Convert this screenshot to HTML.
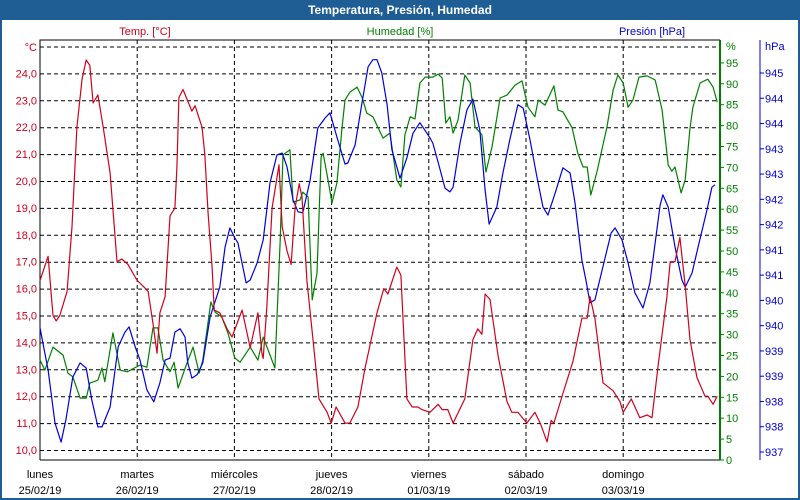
<!DOCTYPE html>
<html><head><meta charset="utf-8"><style>
body{margin:0;background:#fff;}
svg{display:block;font-family:"Liberation Sans",sans-serif;}
</style></head><body>
<svg id="chart" width="800" height="500" viewBox="0 0 800 500">
<rect x="0" y="0" width="800" height="500" fill="#1f5d95"/>
<rect x="2" y="20" width="796" height="478" fill="#ffffff"/>
<text x="400" y="14" text-anchor="middle" fill="#fff" font-weight="bold" font-size="12">Temperatura, Presión, Humedad</text>
<text x="145" y="35" text-anchor="middle" fill="#d0001c" font-size="11">Temp. [°C]</text>
<text x="400" y="35" text-anchor="middle" fill="#008000" font-size="11">Humedad [%]</text>
<text x="652" y="35" text-anchor="middle" fill="#0000cc" font-size="11">Presión [hPa]</text>
<g id="grid"></g><g id="axes"></g><g id="series"></g>
</svg>
<script>
const days=["lunes","martes","miércoles","jueves","viernes","sábado","domingo"];
const dates=["25/02/19","26/02/19","27/02/19","28/02/19","01/03/19","02/03/19","03/03/19"];
const tempTicks=["24,0","23,0","22,0","21,0","20,0","19,0","18,0","17,0","16,0","15,0","14,0","13,0","12,0","11,0","10,0"];
const humTicks=[95,90,85,80,75,70,65,60,55,50,45,40,35,30,25,20,15,10,5,0];
const presTicks=["945","944","944","943","943","942","942","941","941","940","940","939","939","938","938","937"];
const tempHours=[0,2,3.2,4,4.9,6.7,7.9,9.1,10.4,11.4,12.3,13.1,14.3,15.6,17.3,19,20.2,21.7,24,25.4,26.7,27.9,28.9,29.6,30.9,32.1,33.3,33.8,34.3,35.3,37.5,38.3,40,40.7,41.5,42.5,43,44.4,46.2,47.4,49.9,51.9,53.8,54.8,55.1,56,57.3,59,59.8,61,62,63,64,64.7,65.9,67.4,68.9,70.9,71.9,73.1,75.3,76.5,78.5,80.2,83.2,84.9,85.9,88.1,89.1,90.6,91.9,93.3,94.3,96.3,98.3,99.3,100.7,102,104.9,106.9,108.1,109.1,109.9,111.1,113.1,115.3,116.5,118,120.2,122.2,123.5,125.2,126.2,126.9,129.1,131.6,133.8,135.1,135.8,137,139,141.5,143.2,144,146,148.1,149.9,151.1,152.6,154.8,155.6,156.8,158,159.3,160.5,162.2,164.2,164.9,166.2,167.2];
const tempValues=[16.3,17.2,15.0,14.8,15.0,15.9,18.3,22.0,23.8,24.5,24.3,22.9,23.2,22.0,20.3,17.0,17.1,16.9,16.3,16.1,15.9,14.7,13.6,15.1,15.7,18.7,19.0,20.5,23.1,23.4,22.6,22.8,22.0,21.0,18.8,16.8,15.2,15.1,14.5,14.2,15.2,13.8,15.1,13.6,13.4,15.3,19.0,20.6,18.3,17.4,16.9,19.0,19.9,19.4,16.3,14.1,11.9,11.4,11.0,11.6,11.0,11.0,11.6,13.0,15.1,16.0,15.8,16.8,16.5,11.9,11.6,11.6,11.5,11.4,11.7,11.5,11.5,11.0,11.9,14.1,14.5,14.3,15.8,15.6,13.5,11.8,11.4,11.4,11.0,11.4,11.0,10.3,11.1,11.0,12.1,13.3,14.9,14.9,15.7,14.9,12.5,12.2,11.8,11.4,11.9,11.2,11.3,11.2,13.1,15.7,17.0,17.0,17.9,16.1,14.1,12.7,12.0,12.0,11.7,12.0];
const humHours=[0,1.2,3.2,5.7,6.9,8.1,9.9,11.4,12.3,14.3,15.3,16,18,19.8,21.5,24.7,26.4,27.9,29.1,30.4,32.1,33.1,34.1,36.3,37.8,39.3,40.2,42.2,43.2,44.9,46.4,48.1,49.4,51.9,53.8,55.1,58,59.3,60,61.7,62.5,64.2,64.9,66.2,67.2,68.4,69.4,69.9,71.1,72.1,73.3,74.6,75.3,76.5,78.3,79.5,80.7,82.2,84.7,86.4,88.1,89.1,90.1,91.4,92.6,93.8,95.1,97,98.3,99.3,100.2,101.2,102,103.2,104.9,106.2,107.4,109.1,110.1,111.6,113.6,115.3,117.3,119,120.5,122.2,123,124.7,126.9,127.9,129.1,131.4,132.8,134.1,135.1,136,137.5,140,141.5,142.7,144,145.2,146.4,147.9,149.9,151.9,153.6,155.1,156,156.8,158.3,159.3,160.5,161.2,163,164.9,166.2,167.2];
const humValues=[23.9,21.5,27.0,25.1,20.8,19.9,14.8,14.8,18.4,19.1,22.0,18.7,30.4,21.5,21.1,22.7,22.2,31.6,31.6,23.9,21.1,23.4,17.2,23.2,27.0,20.8,23.9,37.8,35.4,34.2,30.4,24.4,23.4,27.0,23.9,29.4,22.0,52.6,73.0,74.2,61.7,62.2,64.1,62.9,38.3,44.7,72.5,73.4,67.0,61.5,66.3,79.7,86.1,88.0,89.2,86.8,83.0,82.1,77.0,78.2,67.0,65.3,77.8,82.1,81.6,90.2,91.6,91.6,92.3,91.4,80.6,82.1,78.2,81.3,92.1,90.2,79.7,77.8,68.9,74.9,86.6,87.3,89.7,90.7,84.4,82.1,86.1,84.9,89.5,83.7,83.3,79.4,73.4,70.1,70.1,63.4,68.9,79.7,88.5,92.1,90.2,84.4,86.1,91.6,91.9,90.9,83.7,70.6,69.1,70.1,63.9,67.0,79.4,84.4,90.2,91.1,89.2,85.6];
const presHours=[0,2,3.7,5.2,6.4,8.1,9.9,11.4,12.8,14.3,15.3,17.3,19.3,21,22,23.5,24.7,26.4,28.1,29.6,30.9,32.1,33.3,34.6,35.8,36.5,37.5,38.8,40.2,42,44.4,45.7,46.9,48.1,48.9,50.9,51.9,53.6,55.1,56.8,58.5,59.8,61,62.5,63.7,64.9,66.7,68.6,70.4,71.6,73.3,75.3,76,77.8,79.5,81,82.2,83.2,84.4,85.7,86.9,88.9,90.6,92.1,93.8,96.3,97,98.3,100,101.2,102,103.7,105.4,106.9,108.6,109.9,110.9,112.8,114.3,116,118,119.3,121,122.7,124.2,125.4,127.2,129.1,130.9,132.1,133.8,134.8,135.8,137,138.8,141,142,143.7,145.2,146.9,148.9,150.6,153.1,153.8,155.1,156.8,158.5,159.3,161,162.5,164.7,165.9,166.7];
const presValues=[939.62,938.73,937.61,937.21,937.68,938.58,938.88,938.77,938.10,937.53,937.53,937.95,939.22,939.53,939.64,939.22,938.94,938.31,938.06,938.46,938.94,938.98,939.53,939.60,939.43,938.88,938.56,938.63,938.88,939.85,940.48,941.33,941.73,941.52,941.41,940.57,940.63,940.99,941.48,942.68,943.27,943.31,943.02,942.32,942.07,942.05,942.74,943.84,944.05,944.16,943.65,943.08,943.10,943.48,944.37,945.13,945.28,945.28,945.00,944.33,943.38,942.78,943.21,943.73,943.95,943.63,943.52,943.12,942.57,942.49,942.59,943.52,944.22,944.45,943.80,942.53,941.81,942.17,942.89,943.59,944.33,944.26,943.59,942.81,942.17,942.00,942.47,943.00,942.89,942.26,941.05,940.63,940.15,940.21,940.84,941.62,941.73,941.48,940.99,940.36,940.04,940.57,942.21,942.43,942.17,941.33,940.63,940.48,940.78,941.33,942.11,942.59,942.64];

const NS="http://www.w3.org/2000/svg";
const X0=40,X1=720,Y0=40,Y1=460;
const xScale=h=>X0+h*97.2/24;
const tY=t=>450-(t-10)*26.9;
const hY=v=>460-v*4.18;
const pY=p=>452-(p-937)*379/8;
function mk(tag,attrs,parent){const e=document.createElementNS(NS,tag);for(const k in attrs)e.setAttribute(k,attrs[k]);parent.appendChild(e);return e;}
const grid=document.getElementById('grid'),axes=document.getElementById('axes'),ser=document.getElementById('series');

// horizontal grid lines (temp axis gridlines incl. top 25 line)
for(let k=0;k<16;k++){
  const y=47+k*26.9;
  const l=mk('line',{x1:X0,x2:X1,y1:y,y2:y,stroke:'#000','stroke-dasharray':'4,3','stroke-width':1},grid);
  
  
}
// vertical grid + x labels
days.forEach((d,i)=>{
  const x=X0+i*97.2;
  if(i>0){const l=mk('line',{x1:x,x2:x,y1:Y0,y2:Y1,stroke:'#000','stroke-dasharray':'4,3'},grid);
    
    }
  const t1=mk('text',{x:x,y:478,'text-anchor':'middle','font-size':11,fill:'#000'},axes);t1.textContent=d;
  
  
  const t2=mk('text',{x:x,y:494,'text-anchor':'middle','font-size':11,fill:'#000'},axes);t2.textContent=dates[i];
  
  
});
// plot frame
let f=mk('polyline',{points:`${X0},${Y1} ${X0},${Y0} ${X1},${Y0}`,fill:'none',stroke:'#000'},axes);


f=mk('line',{x1:X0,x2:X1,y1:Y1,y2:Y1,stroke:'#000'},axes);


// left temp axis
let u=mk('text',{x:37,y:51,'text-anchor':'end','font-size':11,fill:'#d0001c'},axes);u.textContent='°C';


tempTicks.forEach((s,i)=>{
  const v=parseFloat(s.replace(',','.'));const y=tY(v);
  const t=mk('text',{x:37,y:y+4,'text-anchor':'end','font-size':11,fill:'#d0001c'},axes);t.textContent=s;
  
  
});
// humidity axis
f=mk('line',{x1:X1,x2:X1,y1:Y0,y2:Y1,stroke:'#008000','stroke-width':2},axes);


u=mk('text',{x:726,y:50,'font-size':11,fill:'#008000'},axes);u.textContent='%';


humTicks.forEach(v=>{
  const y=hY(v);
  const tk=mk('line',{x1:X1,x2:X1+4,y1:y,y2:y,stroke:'#008000'},axes);
  
  
  const t=mk('text',{x:726,y:y+4,'font-size':11,fill:'#008000'},axes);t.textContent=v;
  
  
});
// pressure axis
f=mk('line',{x1:760,x2:760,y1:Y0,y2:Y1,stroke:'#0000cc'},axes);


u=mk('text',{x:765,y:50,'font-size':11,fill:'#0000cc'},axes);u.textContent='hPa';


presTicks.forEach((s,i)=>{
  const y=pY(945-i*8/15);
  const tk=mk('line',{x1:760,x2:764,y1:y,y2:y,stroke:'#0000cc'},axes);
  
  
  const t=mk('text',{x:765,y:y+4,'font-size':11,fill:'#0000cc'},axes);t.textContent=s;
  
  
});
// series
function line(hours,vals,ys,color,name){
  const pts=hours.map((h,i)=>xScale(h).toFixed(1)+','+ys(vals[i]).toFixed(1)).join(' ');
  const p=mk('polyline',{points:pts,fill:'none',stroke:color,'stroke-width':1.2,'stroke-linejoin':'round'},ser);
  
  
}
line(humHours,humValues,hY,'#008000','humidity-line');
line(presHours,presValues,pY,'#0000dd','pressure-line');
line(tempHours,tempValues,tY,'#d0001c','temperature-line');
</script>
</body></html>
